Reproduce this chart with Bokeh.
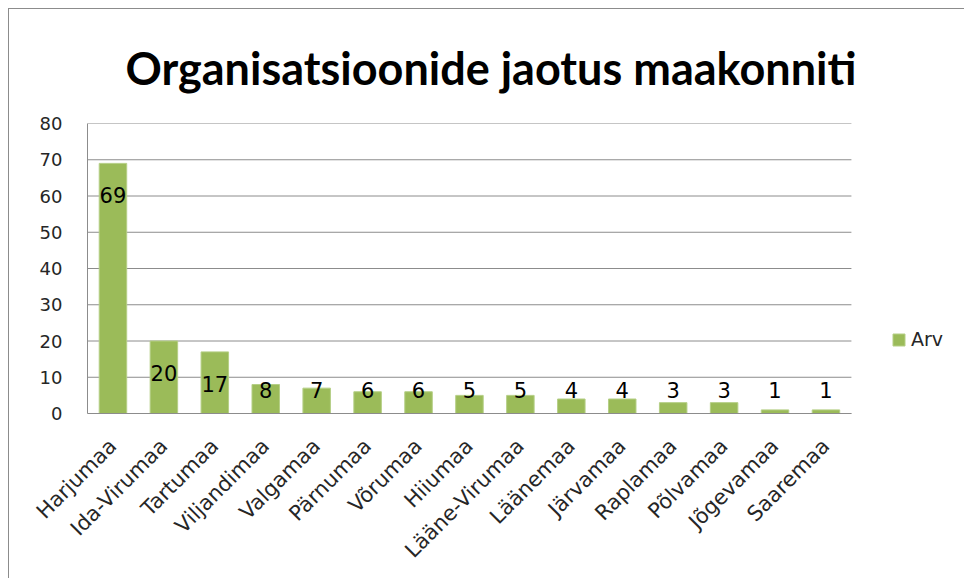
from bokeh.plotting import figure
from bokeh.models import ColumnDataSource, Legend, LegendItem, FixedTicker, Range1d
from bokeh.embed import file_html
from bokeh.resources import INLINE
from bokeh.core.properties import value

categories = ["Harjumaa", "Ida-Virumaa", "Tartumaa", "Viljandimaa", "Valgamaa", "Pärnumaa",
              "Võrumaa", "Hiiumaa", "Lääne-Virumaa", "Läänemaa", "Järvamaa", "Raplamaa",
              "Põlvamaa", "Jõgevamaa", "Saaremaa"]
counts = [69, 20, 17, 8, 7, 6, 6, 5, 5, 4, 4, 3, 3, 1, 1]
y_ticks = [0, 10, 20, 30, 40, 50, 60, 70, 80]
series_name = "Arv"
title_text = "Organisatsioonide jaotus maakonniti"

xpos = list(range(len(categories)))
label_y = [max(v - 8.8, 6.4) for v in counts]
src = ColumnDataSource(dict(x=xpos, val=counts, ly=label_y, txt=[str(v) for v in counts]))

x_start = -0.5
x_end = len(categories) - 0.5

p = figure(width=956, height=570, output_backend="svg",
           toolbar_location=None, min_border_left=78, min_border_right=0,
           min_border_bottom=166, min_border_top=114)
p.x_range = Range1d(x_start, x_start + 17.24)
p.y_range = Range1d(0, 80)
p.styles = {"border-left": "1px solid #8c8c8c", "border-top": "1px solid #8c8c8c",
            "margin-left": "8px", "margin-top": "8px"}

p.title.text = title_text
p.title.align = "left"
p.title.offset = 38
p.title.text_font = "Lato"
p.title.text_font_style = "bold"
p.title.text_font_size = "45px"
p.title.text_color = "#000000"
p.title.standoff = 57

# horizontal gridlines limited to the category area
p.segment(x0=[x_start] * len(y_ticks), x1=[x_end] * len(y_ticks), y0=y_ticks, y1=y_ticks,
          line_color="#8c8c8c", line_width=1, level="underlay")

bars = p.vbar(x="x", top="val", width=0.54, source=src, fill_color="#9BBB59",
              line_color="#b5cf86", line_width=1)
p.text(x="x", y="ly", text="txt", source=src, text_align="center", text_baseline="middle",
       text_font=value("DejaVu Sans"), text_font_size="21px", text_color="#000000")

p.outline_line_color = None
p.xgrid.grid_line_color = None
p.ygrid.grid_line_color = None
p.yaxis.ticker = FixedTicker(ticks=y_ticks)
p.xaxis.ticker = FixedTicker(ticks=xpos)
p.xaxis.major_label_overrides = {i: c for i, c in zip(xpos, categories)}
p.xaxis.bounds = (x_start, x_end)

for ax in (p.xaxis, p.yaxis):
    ax.axis_line_color = "#8c8c8c"
    ax.major_tick_line_color = None
    ax.minor_tick_line_color = None
    ax.major_tick_out = 0
    ax.major_tick_in = 0
    ax.major_label_text_font = "DejaVu Sans"
    ax.major_label_text_color = "#262626"

p.yaxis.major_label_text_font_size = "18px"
p.xaxis.major_label_text_font_size = "21px"
p.yaxis.major_label_standoff = 25
p.xaxis.major_label_orientation = 0.785398
p.xaxis.major_label_standoff = 29

legend = Legend(items=[LegendItem(label=series_name, renderers=[bars])], location=(804, 63),
                border_line_color=None, background_fill_alpha=0, padding=0, margin=0,
                glyph_width=15, glyph_height=15, label_standoff=5,
                label_text_font="DejaVu Sans", label_text_font_size="19px",
                label_text_color="#262626")
p.add_layout(legend, "center")

open("out.html", "w").write(file_html(p, INLINE))
